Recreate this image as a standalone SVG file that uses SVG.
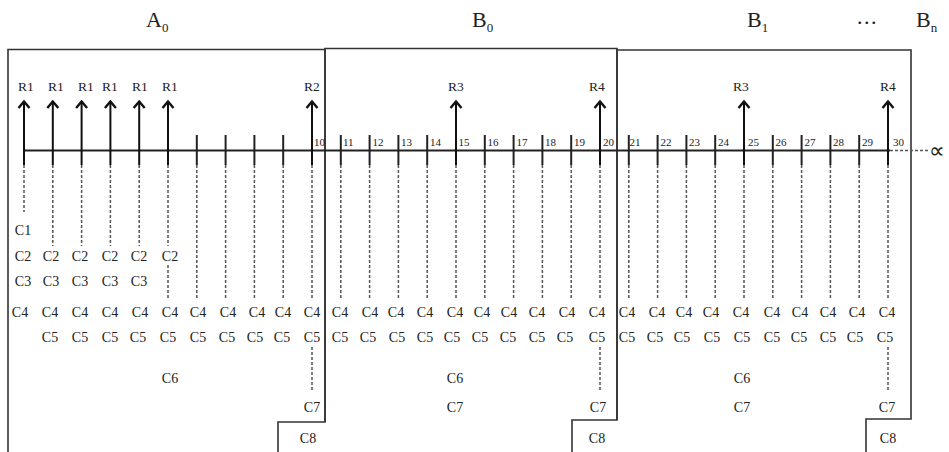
<svg xmlns="http://www.w3.org/2000/svg" width="949" height="452" viewBox="0 0 949 452">
<style>
text{font-family:"Liberation Serif","Times New Roman",serif;fill:#222}
.c{font-size:14px;text-anchor:middle}
.r{font-size:13.5px;text-anchor:middle}
.n{font-size:11px}
.t{font-size:22px}
.box{fill:none;stroke:#333;stroke-width:1.6}
.axis{stroke:#222;stroke-width:2;fill:none}
.tick{stroke:#222;stroke-width:2}
.dash{stroke:#555;stroke-width:1.5;stroke-dasharray:3 2;fill:none}
.arr{stroke:#111;stroke-width:2;fill:none;marker-end:url(#ah)}
</style>
<defs>
<marker id="ah" viewBox="0 0 10 14" refX="8.5" refY="7" markerWidth="10" markerHeight="14" markerUnits="userSpaceOnUse" orient="auto">
<path d="M1.5,1.5 L8,7 L1.5,12.5" fill="none" stroke="#111" stroke-width="2.4" stroke-linejoin="miter"/>
</marker>
</defs>

<g id="title-A0"><text class="t" x="146" y="27">A<tspan font-size="13" dy="5">0</tspan></text></g>
<g id="title-B0"><text class="t" x="472" y="27">B<tspan font-size="13" dy="5">0</tspan></text></g>
<g id="title-B1"><text class="t" x="747" y="27">B<tspan font-size="13" dy="5">1</tspan></text></g>
<g id="title-dots"><text class="t" x="857" y="24" letter-spacing="1.5">...</text></g>
<g id="title-Bn"><text class="t" x="916" y="27">B<tspan font-size="13" dy="5">n</tspan></text></g>

<g id="box-A0">
<path class="box" d="M8,452 V49.5 H325 V422 H278 V452"/>
<text class="c" x="23" y="235">C1</text>
<text class="c" y="261"><tspan x="23">C2</tspan><tspan x="51">C2</tspan><tspan x="80">C2</tspan><tspan x="110">C2</tspan><tspan x="139">C2</tspan><tspan x="170">C2</tspan></text>
<text class="c" y="286"><tspan x="23">C3</tspan><tspan x="51">C3</tspan><tspan x="80">C3</tspan><tspan x="110">C3</tspan><tspan x="139">C3</tspan></text>
<text class="c" y="317"><tspan x="20">C4</tspan><tspan x="50">C4</tspan><tspan x="80">C4</tspan><tspan x="110">C4</tspan><tspan x="140">C4</tspan><tspan x="170">C4</tspan><tspan x="198">C4</tspan><tspan x="228">C4</tspan><tspan x="257">C4</tspan><tspan x="283">C4</tspan><tspan x="312">C4</tspan></text>
<text class="c" y="342"><tspan x="50">C5</tspan><tspan x="80">C5</tspan><tspan x="110">C5</tspan><tspan x="138">C5</tspan><tspan x="168">C5</tspan><tspan x="198">C5</tspan><tspan x="227">C5</tspan><tspan x="255">C5</tspan><tspan x="282">C5</tspan><tspan x="312">C5</tspan></text>
<text class="c" x="170" y="383">C6</text>
<text class="c" x="312" y="412">C7</text>
<text class="c" x="308" y="443">C8</text>
</g>

<g id="box-B0">
<path class="box" d="M325,422 V48.5 H617 V420 H572 V452"/>
<text class="c" y="317"><tspan x="340">C4</tspan><tspan x="370">C4</tspan><tspan x="396">C4</tspan><tspan x="425">C4</tspan><tspan x="455">C4</tspan><tspan x="482">C4</tspan><tspan x="509">C4</tspan><tspan x="537">C4</tspan><tspan x="567">C4</tspan><tspan x="597">C4</tspan></text>
<text class="c" y="342"><tspan x="340">C5</tspan><tspan x="368">C5</tspan><tspan x="397">C5</tspan><tspan x="425">C5</tspan><tspan x="452">C5</tspan><tspan x="480">C5</tspan><tspan x="508">C5</tspan><tspan x="537">C5</tspan><tspan x="565">C5</tspan><tspan x="597">C5</tspan></text>
<text class="c" x="455" y="383">C6</text>
<text class="c" x="455" y="412">C7</text>
<text class="c" x="598" y="412">C7</text>
<text class="c" x="597" y="443">C8</text>
</g>

<g id="box-B1">
<path class="box" d="M617,420 V50 H911 V419 H866 V452"/>
<text class="c" y="317"><tspan x="627">C4</tspan><tspan x="657">C4</tspan><tspan x="684">C4</tspan><tspan x="711">C4</tspan><tspan x="741">C4</tspan><tspan x="772">C4</tspan><tspan x="800">C4</tspan><tspan x="828">C4</tspan><tspan x="857">C4</tspan><tspan x="887">C4</tspan></text>
<text class="c" y="342"><tspan x="627">C5</tspan><tspan x="655">C5</tspan><tspan x="682">C5</tspan><tspan x="712">C5</tspan><tspan x="742">C5</tspan><tspan x="772">C5</tspan><tspan x="799">C5</tspan><tspan x="828">C5</tspan><tspan x="855">C5</tspan><tspan x="885">C5</tspan></text>
<text class="c" x="742" y="383">C6</text>
<text class="c" x="742" y="412">C7</text>
<text class="c" x="887" y="412">C7</text>
<text class="c" x="888" y="443">C8</text>
</g>

<g id="axis">
<line class="axis" x1="23" y1="150.5" x2="890" y2="150.5"/>
<line class="dash" x1="890" y1="150.5" x2="928" y2="150.5"/>
<text x="929" y="158" font-family="DejaVu Serif, serif" font-size="22">∝</text>
<g class="tick">
<line x1="196.8" y1="135" x2="196.8" y2="165"/><line x1="225.6" y1="135" x2="225.6" y2="165"/><line x1="254.4" y1="135" x2="254.4" y2="165"/><line x1="283.2" y1="135" x2="283.2" y2="165"/>
<line x1="340.8" y1="135" x2="340.8" y2="165"/><line x1="369.6" y1="135" x2="369.6" y2="165"/><line x1="398.4" y1="135" x2="398.4" y2="165"/><line x1="427.2" y1="135" x2="427.2" y2="165"/>
<line x1="484.8" y1="135" x2="484.8" y2="165"/><line x1="513.6" y1="135" x2="513.6" y2="165"/><line x1="542.4" y1="135" x2="542.4" y2="165"/><line x1="571.2" y1="135" x2="571.2" y2="165"/>
<line x1="628.8" y1="135" x2="628.8" y2="165"/><line x1="657.6" y1="135" x2="657.6" y2="165"/><line x1="686.4" y1="135" x2="686.4" y2="165"/><line x1="715.2" y1="135" x2="715.2" y2="165"/>
<line x1="772.8" y1="135" x2="772.8" y2="165"/><line x1="801.6" y1="135" x2="801.6" y2="165"/><line x1="830.4" y1="135" x2="830.4" y2="165"/><line x1="859.2" y1="135" x2="859.2" y2="165"/>
</g>
<text class="n" y="146"><tspan x="314">10</tspan><tspan x="343">11</tspan><tspan x="372.5">12</tspan><tspan x="401">13</tspan><tspan x="430">14</tspan><tspan x="458.5">15</tspan><tspan x="487.5">16</tspan><tspan x="516.5">17</tspan><tspan x="545">18</tspan><tspan x="574">19</tspan><tspan x="603">20</tspan><tspan x="629.5">21</tspan><tspan x="660.5">22</tspan><tspan x="689">23</tspan><tspan x="718">24</tspan><tspan x="748">25</tspan><tspan x="775.5">26</tspan><tspan x="804.5">27</tspan><tspan x="833">28</tspan><tspan x="862">29</tspan><tspan x="893">30</tspan></text>
</g>

<g id="connectors">
<line class="arr" x1="24" y1="165" x2="24" y2="101"/>
<line class="arr" x1="52.8" y1="165" x2="52.8" y2="101"/>
<line class="arr" x1="81.6" y1="165" x2="81.6" y2="101"/>
<line class="arr" x1="110.4" y1="165" x2="110.4" y2="101"/>
<line class="arr" x1="139.2" y1="165" x2="139.2" y2="101"/>
<line class="arr" x1="168" y1="165" x2="168" y2="101"/>
<line class="arr" x1="312" y1="165" x2="312" y2="101"/>
<line class="arr" x1="456" y1="165" x2="456" y2="101"/>
<line class="arr" x1="600" y1="165" x2="600" y2="101"/>
<line class="arr" x1="744" y1="165" x2="744" y2="101"/>
<line class="arr" x1="888" y1="165" x2="888" y2="101"/>
<path class="dash" d="M24,165V212 M52.8,165V246 M81.6,165V246 M110.4,165V246 M139.2,165V246 M168,165V246 M168,265V298
M196.8,165V298 M225.6,165V298 M254.4,165V298 M283.2,165V298 M312,165V298
M340.8,165V298 M369.6,165V298 M398.4,165V298 M427.2,165V298 M456,165V298 M484.8,165V298 M513.6,165V298 M542.4,165V298 M571.2,165V298 M600,165V298
M628.8,165V298 M657.6,165V298 M686.4,165V298 M715.2,165V298 M744,165V298 M772.8,165V298 M801.6,165V298 M830.4,165V298 M859.2,165V298 M888,165V298
M312,347V392 M600,347V392 M888,347V392"/>
</g>

<g id="r-labels">
<text class="r" y="91"><tspan x="26">R1</tspan><tspan x="56">R1</tspan><tspan x="86">R1</tspan><tspan x="110">R1</tspan><tspan x="140">R1</tspan><tspan x="170">R1</tspan><tspan x="312">R2</tspan><tspan x="456">R3</tspan><tspan x="597">R4</tspan><tspan x="741">R3</tspan><tspan x="888">R4</tspan></text>
</g>
</svg>
